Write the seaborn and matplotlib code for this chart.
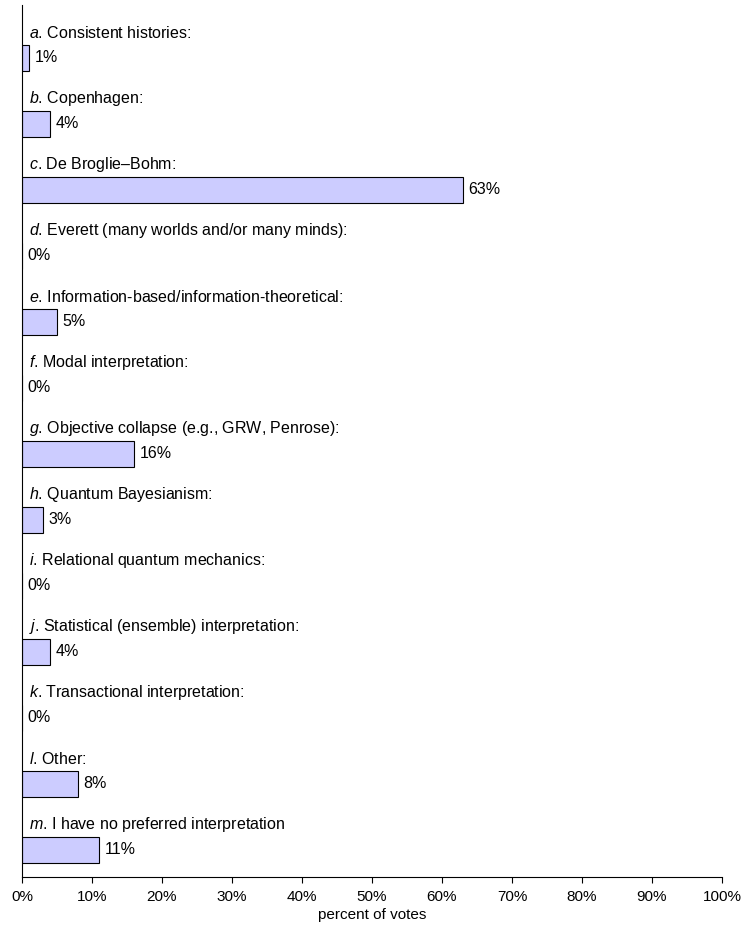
import matplotlib
matplotlib.use("Agg")
import matplotlib.pyplot as plt
import seaborn as sns
import pandas as pd

letters = ["a", "b", "c", "d", "e", "f", "g", "h", "i", "j", "k", "l", "m"]
labels = [
    "Consistent histories:",
    "Copenhagen:",
    "De Broglie–Bohm:",
    "Everett (many worlds and/or many minds):",
    "Information-based/information-theoretical:",
    "Modal interpretation:",
    "Objective collapse (e.g., GRW, Penrose):",
    "Quantum Bayesianism:",
    "Relational quantum mechanics:",
    "Statistical (ensemble) interpretation:",
    "Transactional interpretation:",
    "Other:",
    "I have no preferred interpretation",
]
values = [1, 4, 63, 0, 5, 0, 16, 3, 0, 4, 0, 8, 11]
xticks = [0, 10, 20, 30, 40, 50, 60, 70, 80, 90, 100]

sns.set_theme(style="white")
FONT = "Liberation Sans"
plt.rcParams["font.family"] = [FONT, "DejaVu Sans"]
plt.rcParams["mathtext.fontset"] = "custom"
plt.rcParams["mathtext.rm"] = FONT
plt.rcParams["mathtext.it"] = FONT + ":italic"
FS = 11.5
TFS = 11

df = pd.DataFrame({"cat": [f"{l}. {t}" for l, t in zip(letters, labels)], "val": values})

fig = plt.figure(figsize=(7.43, 9.34), dpi=100)
ax = fig.add_axes([0.0296, 0.061, 0.9421, 0.9336])
sns.barplot(data=df, x="val", y="cat", orient="h", color="#ccccff", saturation=1,
            edgecolor="black", linewidth=0.8, width=0.39, ax=ax)

for i, (l, t, v) in enumerate(zip(letters, labels, values)):
    ax.text(1.0, i - 0.38, f"$\\mathit{{{l}}}$. {t}", ha="left", va="center",
            fontsize=FS, color="black")
    ax.annotate(f"{v}%", xy=(v, i), xytext=(4, 0), textcoords="offset points",
                ha="left", va="center", fontsize=FS, color="black")

ax.set_xlim(0, 100)
ax.set_ylim(12.41, -0.80)
ax.set_xticks(xticks)
ax.set_xticklabels([f"{x}%" for x in xticks], fontsize=TFS, color="black")
ax.set_yticks([])
ax.set_ylabel("")
ax.set_xlabel("percent of votes", fontsize=TFS, labelpad=3, color="black")
ax.tick_params(axis="x", direction="out", length=4, width=0.8, color="black", pad=5,
               bottom=True, labelcolor="black")
for s in ["top", "right"]:
    ax.spines[s].set_visible(False)
for s in ["left", "bottom"]:
    ax.spines[s].set_color("black")
    ax.spines[s].set_linewidth(0.8)

fig.savefig("out.png", dpi=100)
